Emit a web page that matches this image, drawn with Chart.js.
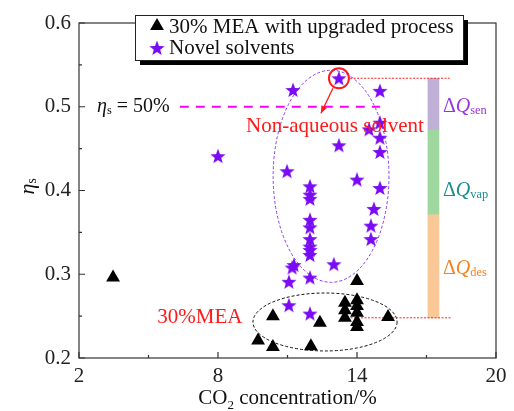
<!DOCTYPE html>
<html>
<head>
<meta charset="utf-8">
<script src="https://cdn.jsdelivr.net/npm/chart.js@4"></script>
<style>
  html, body { margin: 0; padding: 0; background: #fff; }
  #wrap { width: 514px; height: 411px; }
</style>
</head>
<body>
<div id="wrap"><canvas id="scatterChart" width="514" height="411"></canvas></div>
<script>
// 30% MEA with upgraded process (triangles)
const meaX = [3.47, 10.37, 9.73, 10.37, 12.01, 14.0, 12.4, 13.48, 13.48, 13.48,
    14.0, 14.0, 14.0, 14.0, 14.0, 15.34];
const meaY = [0.296, 0.25, 0.221, 0.213, 0.214, 0.292, 0.242, 0.266, 0.257, 0.248,
    0.269, 0.262, 0.254, 0.243, 0.237, 0.249];

// novel solvents (stars)
const solvX = [8.0, 13.22, 11.24, 14.99, 14.99, 14.52, 14.99, 14.99, 13.22, 10.98,
    14.0, 11.97, 11.97, 11.97, 14.99, 14.73, 14.6, 14.6, 11.97, 11.97,
    11.97, 11.97, 11.97, 11.97, 11.28, 11.2, 13.0, 11.06, 11.97, 11.06, 11.97];
const solvY = [0.441, 0.534, 0.52, 0.519, 0.481, 0.473, 0.463, 0.446, 0.454, 0.423,
    0.413, 0.405, 0.395, 0.39, 0.403, 0.378, 0.358, 0.342, 0.365, 0.356,
    0.342, 0.333, 0.329, 0.323, 0.311, 0.308, 0.312, 0.291, 0.296, 0.263, 0.253];

const seriesNames = ['30% MEA with upgraded process', 'Novel solvents'];

// energy split bar (ΔQdes, ΔQvap, ΔQsen)
const barX = 17.3;
const barEdges = [0.248, 0.371, 0.472, 0.534];
const barNames = ['des', 'vap', 'sen'];

const xTicks = [2, 8, 14, 20];
const yTicks = [0.2, 0.3, 0.4, 0.5, 0.6];
const refLevel = 0.5;

const serif = '"Liberation Serif", "Times New Roman", serif';

function toPts(xs, ys) {
    return xs.map((x, i) => ({ x: x, y: ys[i] }));
}

// filled five point star used as point style
function makeStar(r, color) {
    const c = document.createElement('canvas');
    c.width = c.height = Math.ceil(r * 2 + 2);
    const g = c.getContext('2d');
    const cx = c.width / 2, cy = c.height / 2 + 0.6;
    g.beginPath();
    for (let i = 0; i < 10; i++) {
        const rr = i % 2 === 0 ? r : r * 0.42;
        const a = -Math.PI / 2 + i * Math.PI / 5;
        g.lineTo(cx + rr * Math.cos(a), cy + rr * Math.sin(a));
    }
    g.closePath();
    g.fillStyle = color;
    g.fill();
    return c;
}
const starColor = '#7a0cf5';
const starImg = makeStar(8, starColor);

function drawTriangle(g, x, y, r) {
    g.beginPath();
    g.moveTo(x, y - r);
    g.lineTo(x + r * 0.866, y + r * 0.5);
    g.lineTo(x - r * 0.866, y + r * 0.5);
    g.closePath();
    g.fillStyle = '#000';
    g.fill();
}

// text with optional italic and subscript parts
function richText(g, parts, x, y, size) {
    let cx = x;
    parts.forEach(p => {
        const fs = p.sub ? size * 0.62 : size;
        g.font = (p.it ? 'italic ' : '') + fs + 'px ' + serif;
        g.fillText(p.t, cx, y + (p.sub ? size * 0.22 : 0));
        cx += g.measureText(p.t).width;
    });
    return cx - x;
}

const extras = {
    id: 'extras',
    beforeDatasetsDraw(chart) {
        const g = chart.ctx, xs = chart.scales.x, ys = chart.scales.y;
        g.save();
        // purple ellipse around non-aqueous solvents
        g.setLineDash([3, 2]);
        g.lineWidth = 1;
        g.strokeStyle = '#8a3cf0';
        g.beginPath();
        g.ellipse(xs.getPixelForValue(12.88), ys.getPixelForValue(0.417),
            xs.getPixelForValue(12.88 + 2.5) - xs.getPixelForValue(12.88),
            ys.getPixelForValue(0.417) - ys.getPixelForValue(0.417 + 0.1266), 0, 0, Math.PI * 2);
        g.stroke();
        // black ellipse around 30%MEA
        g.strokeStyle = '#111';
        g.beginPath();
        g.ellipse(xs.getPixelForValue(12.62), ys.getPixelForValue(0.243),
            xs.getPixelForValue(12.62 + 3.11) - xs.getPixelForValue(12.62),
            ys.getPixelForValue(0.243) - ys.getPixelForValue(0.243 + 0.0346), 0, 0, Math.PI * 2);
        g.stroke();
        g.restore();
    },
    afterDraw(chart) {
        const g = chart.ctx, xs = chart.scales.x, ys = chart.scales.y;
        const a = chart.chartArea;
        g.save();
        // frame
        g.strokeStyle = '#333';
        g.lineWidth = 1.2;
        g.strokeRect(a.left, a.top, a.right - a.left, a.bottom - a.top);
        // inward ticks
        g.beginPath();
        xTicks.forEach(v => {
            const px = xs.getPixelForValue(v);
            g.moveTo(px, a.bottom); g.lineTo(px, a.bottom - 6);
        });
        for (let v = 5; v < 20; v += 6) {
            const px = xs.getPixelForValue(v);
            g.moveTo(px, a.bottom); g.lineTo(px, a.bottom - 3);
        }
        yTicks.forEach(v => {
            const py = ys.getPixelForValue(v);
            g.moveTo(a.left, py); g.lineTo(a.left + 6, py);
        });
        for (let v = 0.25; v < 0.6; v += 0.1) {
            const py = ys.getPixelForValue(v);
            g.moveTo(a.left, py); g.lineTo(a.left + 3, py);
        }
        g.stroke();

        // red circle and arrow at best solvent
        const bx = xs.getPixelForValue(solvX[1]), by = ys.getPixelForValue(solvY[1]);
        g.strokeStyle = '#ff1a1a';
        g.lineWidth = 2;
        g.beginPath();
        g.arc(bx, by, 10, 0, Math.PI * 2);
        g.stroke();
        g.lineWidth = 1.3;
        const ax0 = bx - 6, ay0 = by + 10, ax1 = bx - 18, ay1 = by + 35;
        g.beginPath(); g.moveTo(ax0, ay0); g.lineTo(ax1, ay1); g.stroke();
        const ang = Math.atan2(ay1 - ay0, ax1 - ax0);
        g.fillStyle = '#ff1a1a';
        g.beginPath();
        g.moveTo(ax1, ay1);
        g.lineTo(ax1 - 8 * Math.cos(ang - 0.4), ay1 - 8 * Math.sin(ang - 0.4));
        g.lineTo(ax1 - 8 * Math.cos(ang + 0.4), ay1 - 8 * Math.sin(ang + 0.4));
        g.closePath(); g.fill();

        // text annotations
        g.textBaseline = 'middle';
        g.textAlign = 'center';
        g.fillStyle = '#ff1a1a';
        g.font = '21px ' + serif;
        g.fillText('Non-aqueous solvent', xs.getPixelForValue(13.05), ys.getPixelForValue(0.476));
        g.fillText('30%MEA', xs.getPixelForValue(7.22), ys.getPixelForValue(0.248));

        g.textAlign = 'left';
        g.fillStyle = '#111';
        richText(g, [{ t: 'η', it: true }, { t: 's', sub: true }, { t: ' = 50%' }],
            xs.getPixelForValue(2.78), ys.getPixelForValue(refLevel), 20);

        const qColors = { sen: '#9b35e0', vap: '#1c8c8c', des: '#f5821f' };
        const qY = { sen: 0.5, vap: 0.4, des: 0.307 };
        barNames.forEach(n => {
            g.fillStyle = qColors[n];
            richText(g, [{ t: 'Δ' }, { t: 'Q', it: true }, { t: n, sub: true }],
                xs.getPixelForValue(17.71), ys.getPixelForValue(qY[n]), 20);
        });

        // axis titles
        g.fillStyle = '#111';
        g.textBaseline = 'alphabetic';
        g.font = '21px ' + serif;
        const t1 = 'CO', t3 = ' concentration/%';
        const w1 = g.measureText(t1).width, w3 = g.measureText(t3).width;
        g.font = (21 * 0.62) + 'px ' + serif;
        const w2 = g.measureText('2').width;
        const tx = (a.left + a.right) / 2 - (w1 + w2 + w3) / 2;
        richText(g, [{ t: t1 }, { t: '2', sub: true }, { t: t3 }], tx, 404, 21);

        g.save();
        g.translate(28, ys.getPixelForValue(0.4) - 4);
        g.rotate(-Math.PI / 2);
        g.textBaseline = 'middle';
        richText(g, [{ t: 'η', it: true }, { t: 's', sub: true }], -8, 0, 22);
        g.restore();

        // legend box with shadow
        const lx = 135, ly = 15, lw = 328, lh = 45;
        g.fillStyle = '#000';
        g.fillRect(lx + 5, ly + 5, lw, lh);
        g.fillStyle = '#fff';
        g.fillRect(lx, ly, lw, lh);
        g.strokeStyle = '#222';
        g.lineWidth = 1;
        g.strokeRect(lx + 0.5, ly + 0.5, lw, lh);
        drawTriangle(g, lx + 22, ly + 11, 8);
        g.drawImage(starImg, lx + 22 - starImg.width / 2, ly + 33 - starImg.height / 2);
        g.fillStyle = '#111';
        g.font = '21px ' + serif;
        g.textBaseline = 'middle';
        g.fillText(seriesNames[0], lx + 34, ly + 12);
        g.fillText(seriesNames[1], lx + 34, ly + 33);
        g.restore();
    }
};

document.addEventListener('DOMContentLoaded', function() {
    const barColors = { des: '#f9c896', vap: '#9ed89e', sen: '#c0b0d8' };
    const barSets = barNames.map((n, i) => ({
        type: 'bar',
        data: [{ x: barX, y: [barEdges[i], barEdges[i + 1]] }],
        backgroundColor: barColors[n],
        borderWidth: 0,
        barThickness: 11,
        grouped: false,
        order: 5
    }));

    const lineSet = (pts, color, dash, width) => ({
        type: 'scatter',
        data: pts,
        showLine: true,
        borderColor: color,
        borderDash: dash,
        borderWidth: width,
        pointRadius: 0,
        order: 4
    });

    const datasets = [
        {
            type: 'scatter',
            label: seriesNames[0],
            data: toPts(meaX, meaY),
            pointStyle: 'triangle',
            pointRadius: 8,
            backgroundColor: '#000',
            borderColor: '#000',
            borderWidth: 0,
            order: 1
        },
        {
            type: 'scatter',
            label: seriesNames[1],
            data: toPts(solvX, solvY),
            pointStyle: starImg,
            pointRadius: 8,
            order: 0
        },
        lineSet([{ x: 6.35, y: refLevel }, { x: 15.0, y: refLevel }], '#ff00ff', [9, 7], 2),
        lineSet([{ x: 13.7, y: barEdges[3] }, { x: 18.0, y: barEdges[3] }], '#ff2020', [2, 1.5], 1),
        lineSet([{ x: 13.57, y: barEdges[0] }, { x: 18.1, y: barEdges[0] }], '#ff2020', [2, 1.5], 1),
        ...barSets
    ];

    new Chart(document.getElementById('scatterChart').getContext('2d'), {
        type: 'scatter',
        data: { datasets },
        options: {
            responsive: false,
            animation: false,
            events: [],
            layout: { padding: { top: 23, right: 18, left: 0, bottom: 0 } },
            plugins: { legend: { display: false }, tooltip: { enabled: false } },
            scales: {
                x: {
                    type: 'linear',
                    min: 2, max: 20,
                    offset: false,
                    afterFit(s) { s.height = 53; },
                    afterBuildTicks(s) { s.ticks = xTicks.map(v => ({ value: v })); },
                    grid: { display: false, drawTicks: false, offset: false },
                    border: { display: false },
                    ticks: { padding: 6, color: '#222', font: { family: serif, size: 21 }, maxRotation: 0 }
                },
                y: {
                    type: 'linear',
                    min: 0.2, max: 0.6,
                    afterFit(s) { s.width = 79; },
                    afterBuildTicks(s) { s.ticks = yTicks.map(v => ({ value: v })); },
                    grid: { display: false, drawTicks: false },
                    border: { display: false },
                    ticks: {
                        padding: 8, color: '#222', font: { family: serif, size: 21 },
                        callback: v => v.toFixed(1)
                    }
                }
            }
        },
        plugins: [extras]
    });
});
</script>
</body>
</html>
